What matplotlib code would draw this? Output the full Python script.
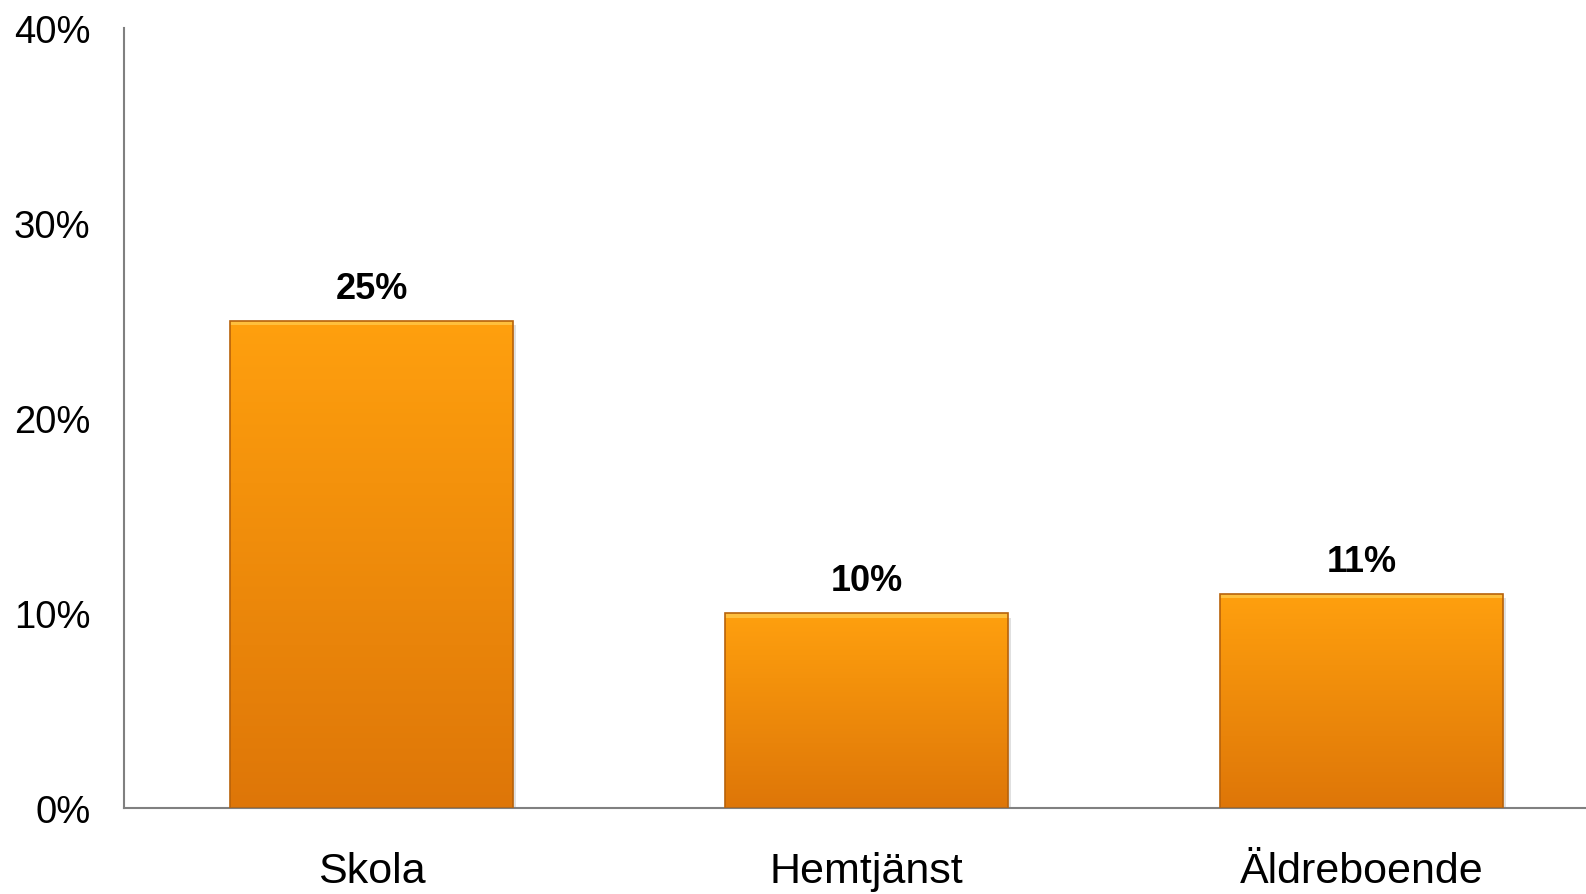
import matplotlib.pyplot as plt
from matplotlib.patches import Rectangle
import numpy as np

# Data
categories = ['Skola', 'Hemtjänst', 'Äldreboende']
values = [25, 10, 11]
value_labels = ['25%', '10%', '11%']
yticks = [0, 10, 20, 30, 40]

plt.rcParams['font.family'] = ['Liberation Sans', 'DejaVu Sans']

W, H = 1586, 895
fig = plt.figure(figsize=(W / 100, H / 100), dpi=100)
# axes runs a little past the right edge (cut like in the original)
left, right = 124, 1609
bottom, top = 809, 29
ax = fig.add_axes([left / W, 1 - bottom / H, (right - left) / W, (bottom - top) / H])

x = np.arange(len(categories))
bar_w = 0.57

# vertical gradient colours (top -> bottom)
c_top = np.array([255, 160, 14]) / 255
c_bot = np.array([222, 118, 8]) / 255
grad = np.linspace(0, 1, 256)[:, None]
img = c_top[None, None, :] * (1 - grad[..., None]) + c_bot[None, None, :] * grad[..., None]

for xi, v in zip(x, values):
    # soft shadow
    sh = Rectangle((xi - bar_w / 2 + 0.006, -0.25), bar_w, v, facecolor='#000000',
                   alpha=0.12, edgecolor='none', zorder=1)
    ax.add_patch(sh)
    bars = ax.bar(xi, v, width=bar_w, color='none', edgecolor='#B8620A',
                  linewidth=1.2, zorder=3)
    rect = bars[0]
    im = ax.imshow(img, extent=[xi - bar_w / 2, xi + bar_w / 2, 0, v],
                   aspect='auto', zorder=2, origin='upper')
    im.set_clip_path(rect)
    # light bevel at top
    ax.add_patch(Rectangle((xi - bar_w / 2, v - 0.25), bar_w, 0.25,
                           facecolor='#FFC84A', edgecolor='none', alpha=0.8, zorder=2.5))

for xi, v, lab in zip(x, values, value_labels):
    ax.text(xi, v + 0.75, lab, ha='center', va='bottom', fontsize=26,
            fontweight='bold', color='black')

ax.set_xlim(-0.5, 2.5)
ax.set_ylim(0, 40)
ax.set_yticks(yticks)
ax.set_yticklabels([f'{t}%' for t in yticks], fontsize=27.5)
ax.set_xticks(x)
ax.set_xticklabels(categories, fontsize=31)
ax.tick_params(axis='y', length=0, pad=24)
ax.tick_params(axis='x', length=0, pad=31)

for s in ['top', 'right']:
    ax.spines[s].set_visible(False)
for s in ['left', 'bottom']:
    ax.spines[s].set_color('#808080')
    ax.spines[s].set_linewidth(1.5)

fig.savefig('out.png', dpi=100)
